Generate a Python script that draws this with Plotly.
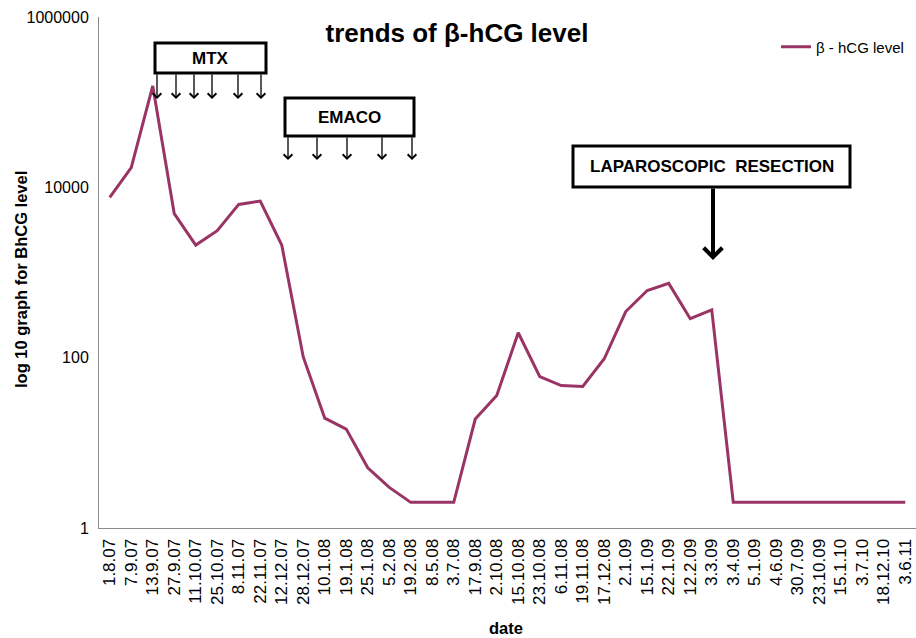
import plotly.graph_objects as go

dates = ["1.8.07", "7.9.07", "13.9.07", "27.9.07", "11.10.07", "25.10.07", "8.11.07",
         "22.11.07", "12.12.07", "28.12.07", "10.1.08", "19.1.08", "25.1.08", "5.2.08",
         "19.2.08", "8.5.08", "3.7.08", "17.9.08", "2.10.08", "15.10.08", "23.10.08",
         "6.11.08", "19.11.08", "17.12.08", "2.1.09", "15.1.09", "22.1.09", "12.2.09",
         "3.3.09", "3.4.09", "5.1.09", "4.6.09", "30.7.09", "23.10.09", "15.1.10",
         "3.7.10", "18.12.10", "3.6.11"]
bhcg = [7600, 17000, 155000, 4900, 2100, 3100, 6300, 6900, 2100, 102, 19.5, 14.5,
        5.1, 3.0, 2, 2, 2, 19, 36, 196, 60, 47, 46, 97, 348, 615, 745, 287, 365,
        2, 2, 2, 2, 2, 2, 2, 2, 2]
ytick_vals = [1, 100, 10000, 1000000]
ytick_text = ["1", "100", "10000", "1000000"]

FONT = "Liberation Sans, Arial, sans-serif"
W, H = 916, 638
L, R, T, B = 99, 0, 17, 110
PW, PH = W - L - R, H - T - B


def px(x):
    return (x - L) / PW


def py(y):
    return (H - B - y) / PH


fig = go.Figure()
fig.add_trace(go.Scatter(x=dates, y=bhcg, mode="lines", name="β - hCG level",
                         line=dict(color="#993465", width=3)))

shapes = []
annotations = []


def box(x0, y0, x1, y1, text, size=17):
    shapes.append(dict(type="rect", xref="paper", yref="paper",
                       x0=px(x0), x1=px(x1), y0=py(y1), y1=py(y0),
                       line=dict(color="black", width=3), fillcolor="white"))
    annotations.append(dict(xref="paper", yref="paper", x=px((x0 + x1) / 2),
                            y=py((y0 + y1) / 2), text="<b>%s</b>" % text,
                            showarrow=False, font=dict(family=FONT, size=size, color="black"),
                            xanchor="center", yanchor="middle"))


def arrow(x, ytop, ytip, width=1.3, size=1.3):
    annotations.append(dict(xref="paper", yref="paper", x=px(x), y=py(ytip),
                            ax=0, ay=-(ytip - ytop), axref="pixel", ayref="pixel",
                            text="", showarrow=True, arrowhead=4, arrowwidth=width,
                            arrowsize=size, arrowcolor="black"))


def label(x, y, text, size, angle=0):
    annotations.append(dict(xref="paper", yref="paper", x=px(x), y=py(y),
                            text="<b>%s</b>" % text, showarrow=False, textangle=angle,
                            font=dict(family=FONT, size=size, color="black"),
                            xanchor="center", yanchor="middle"))


box(155, 43, 266, 73, "MTX")
for xa in [157, 176, 194, 212, 238, 261]:
    arrow(xa, 73, 99)
box(285, 98, 414, 136, "EMACO")
for xa in [288, 317, 347, 382, 412]:
    arrow(xa, 136, 160)
box(573, 146, 850, 187, "LAPAROSCOPIC&nbsp;&nbsp;RESECTION")
arrow(713, 187, 260, width=4, size=0.9)

label(21, 280, "log 10 graph for BhCG level", 16.5, angle=-90)
label(506, 628, "date", 16.5)

fig.update_layout(
    width=W, height=H,
    margin=dict(l=L, r=R, t=T, b=B),
    paper_bgcolor="white", plot_bgcolor="white",
    font=dict(family=FONT, size=14, color="black"),
    title=dict(text="<b>trends of β-hCG level</b>", x=px(457), xanchor="center",
               xref="paper", yref="container", y=1 - 33 / H, yanchor="middle",
               font=dict(family=FONT, size=26, color="black")),
    showlegend=True,
    legend=dict(x=px(776), y=py(47), xanchor="left", yanchor="middle",
                bgcolor="rgba(0,0,0,0)", font=dict(family=FONT, size=15, color="black")),
    shapes=shapes,
    annotations=annotations,
)
fig.update_xaxes(
    type="category", range=[-0.5, len(dates) - 0.5], showgrid=False, showline=True,
    linecolor="#8c8c8c", linewidth=1,
    ticks="", tickangle=-90, tickfont=dict(family=FONT, size=17), automargin=False,
    ticklabelstandoff=3,
)
fig.update_yaxes(
    type="log", range=[0, 6], showgrid=False, showline=True, linecolor="#8c8c8c",
    linewidth=1, ticks="", tickvals=ytick_vals, ticktext=ytick_text,
    tickfont=dict(family=FONT, size=16), automargin=False, ticklabelstandoff=6,
)

fig.write_html("out.html", config={"displayModeBar": False},
               post_script="document.body.style.margin='0';document.body.style.padding='0';")
